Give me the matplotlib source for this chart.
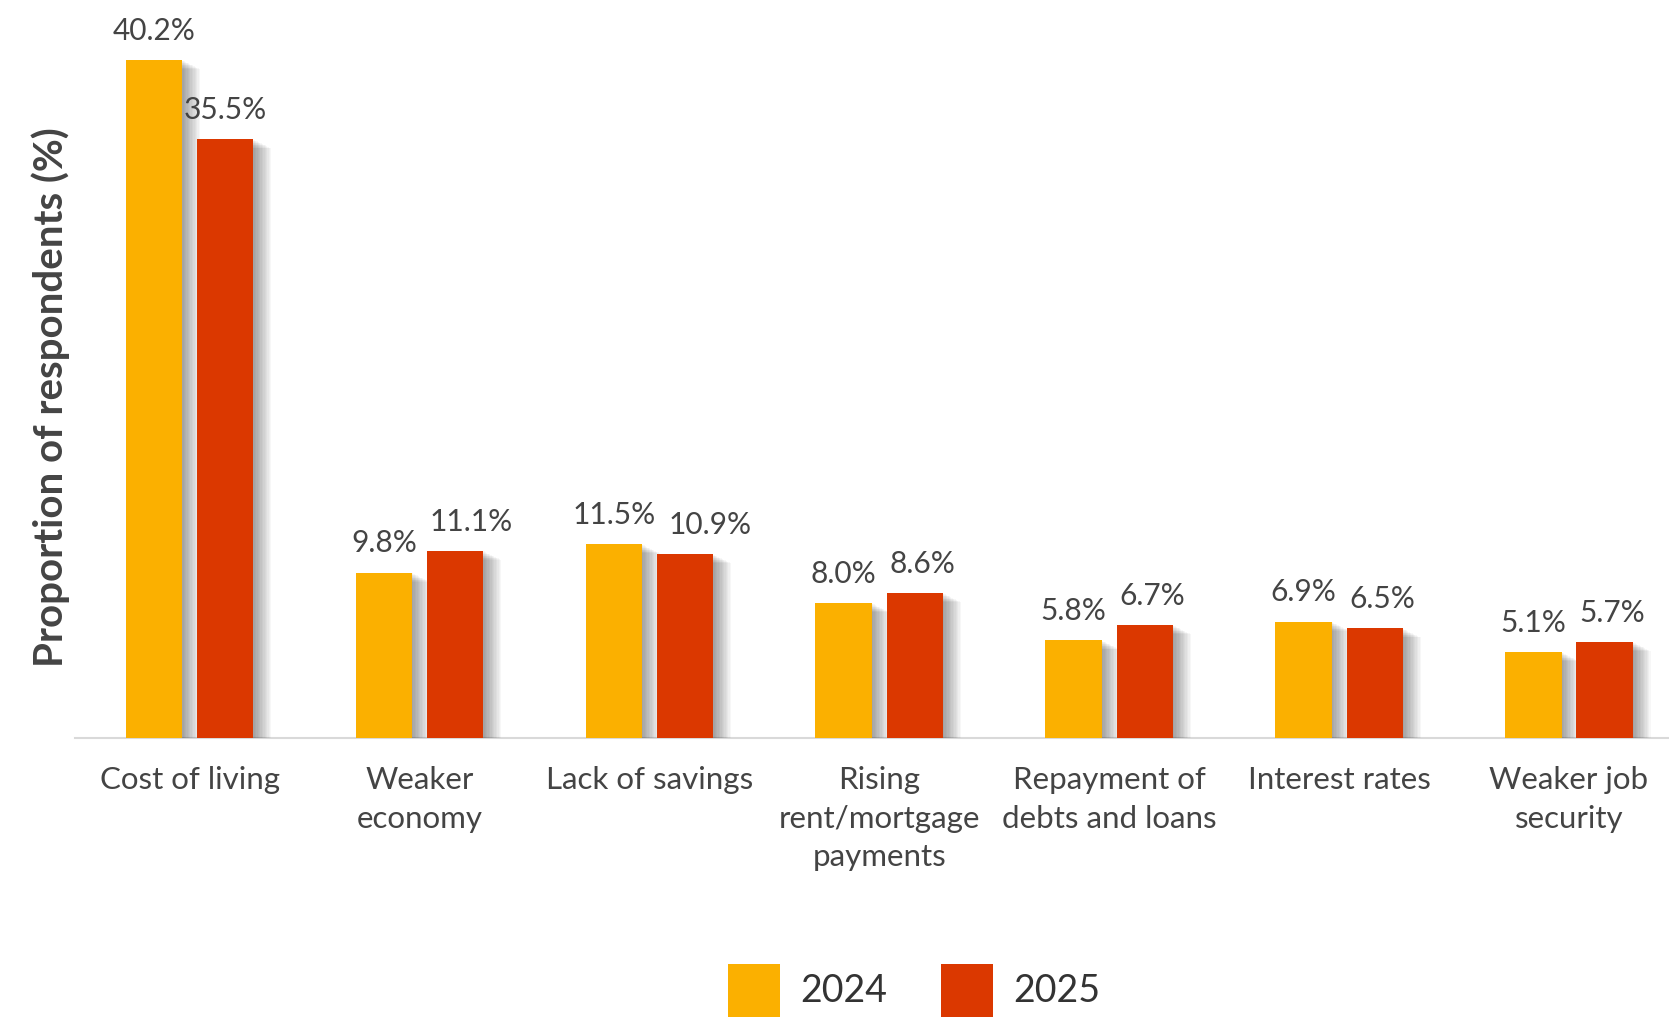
import matplotlib.pyplot as plt
import matplotlib.patheffects as pe
from matplotlib.patches import Rectangle
import numpy as np

plt.rcParams['font.family'] = ['Lato', 'DejaVu Sans']

# --- data ---
categories = ["Cost of living", "Weaker\neconomy", "Lack of savings",
              "Rising\nrent/mortgage\npayments", "Repayment of\ndebts and loans",
              "Interest rates", "Weaker job\nsecurity"]
years = ["2024", "2025"]
vals_2024 = [40.2, 9.8, 11.5, 8.0, 5.8, 6.9, 5.1]
vals_2025 = [35.5, 11.1, 10.9, 8.6, 6.7, 6.5, 5.7]

c2024 = "#FBB000"
c2025 = "#DB3800"
text_col = "#444444"

# --- plot ---
fig = plt.figure(figsize=(16.69, 10.17), dpi=100)
ax = fig.add_axes([0.045, 0.2743, 0.955, 0.7257])

x = np.arange(len(categories))
w = 0.245
off = 0.155

# soft shadow: stack of faint offset shadows
shadow = [pe.SimplePatchShadow(offset=(d, -d * 0.5), shadow_rgbFace="k", alpha=0.03)
          for d in range(1, 14)] + [pe.Normal()]

b1 = ax.bar(x - off, vals_2024, w, color=c2024, path_effects=shadow, zorder=3)
b2 = ax.bar(x + off, vals_2025, w, color=c2025, path_effects=shadow, zorder=3)

labels = []
for bars, vals in [(b1, vals_2024), (b2, vals_2025)]:
    row = []
    for b, v in zip(bars, vals):
        t = ax.annotate(f"{v:.1f}%", (b.get_x() + b.get_width() / 2, v),
                        xytext=(0, 11), textcoords="offset points",
                        ha="center", va="bottom", fontsize=21.5, color=text_col)
        row.append(t)
    labels.append(row)

ax.set_xlim(-0.498, 6.435)
ax.set_ylim(0, 43.75)
ax.set_xticks(x)
ax.set_xticklabels(categories, fontsize=22.5, color=text_col, linespacing=1.47)
ax.tick_params(axis="x", length=0, pad=20)
ax.set_yticks([])
for s in ["top", "right", "left"]:
    ax.spines[s].set_visible(False)
ax.spines["bottom"].set_color("#d9d9d9")
ax.spines["bottom"].set_linewidth(1.5)
ax.set_ylabel("Proportion of respondents (%)", fontsize=29, fontweight="bold",
              color=text_col)
ax.yaxis.set_label_coords(-0.003, 0.462)

# nudge 2025 labels right where they would collide with the 2024 label
fig.canvas.draw()
r = fig.canvas.get_renderer()
for t1, t2 in zip(labels[0], labels[1]):
    e1 = t1.get_window_extent(r)
    e2 = t2.get_window_extent(r)
    gap = 13
    if e2.y0 < e1.y1 and e1.y0 < e2.y1 and e2.x0 < e1.x1 + gap:
        dx = (e1.x1 + gap - e2.x0) * 72 / fig.dpi
        t2.set_position((dx, 11))

# legend, drawn by hand to get big square keys
for i, (yr, col) in enumerate(zip(years, [c2024, c2025])):
    x0 = 0.4362 + i * 0.1276
    fig.add_artist(Rectangle((x0, 0.0), 0.0312, 0.052, transform=fig.transFigure,
                             color=col, lw=0))
    fig.text(x0 + 0.0431, 0.026, yr, fontsize=27, color="#333333",
             ha="left", va="center")

fig.savefig("out.png", dpi=100)
